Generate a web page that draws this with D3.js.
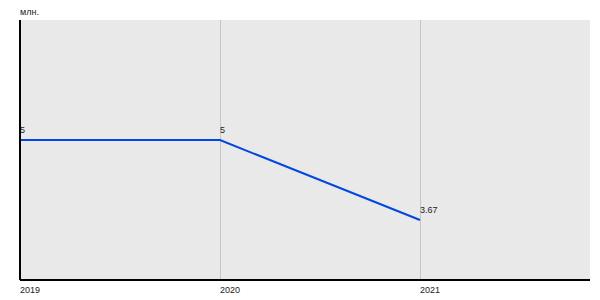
<!DOCTYPE html>
<html>
<head>
<meta charset="utf-8">
<script src="https://cdn.jsdelivr.net/npm/d3@7"></script>
<style>
  body { margin: 0; background: #fff; }
  text { font-family: "Liberation Sans", Arial, sans-serif; font-size: 9px; fill: #222; }
</style>
</head>
<body>
<div id="chart"></div>
<script>
var years = [2019, 2020, 2021];
var values = [5, 5, 3.67];
var valueLabels = ["5", "5", "3.67"];
var unitLabel = "млн.";

var margin = { top: 20, right: 10, bottom: 20, left: 20 },
  width = 600 - margin.left - margin.right,
  height = 300 - margin.top - margin.bottom;

var x = d3.scaleLinear()
  .domain([2019, 2021.85])
  .range([0, width]);
var y = d3.scaleLinear()
  .domain([2.67, 7])
  .range([height, 0]);

var svg = d3.select("#chart").append("svg")
  .attr("width", 600)
  .attr("height", 300);

var g = svg.append("g")
  .attr("transform", "translate(" + margin.left + "," + margin.top + ")");

// plot background
g.append("rect")
  .attr("width", width)
  .attr("height", height)
  .attr("fill", "#e9e9e9");

// vertical grid lines
g.selectAll(".grid")
  .data(years.slice(1))
  .enter().append("line")
  .attr("class", "grid")
  .attr("x1", function(d) { return x(d); })
  .attr("x2", function(d) { return x(d); })
  .attr("y1", 0)
  .attr("y2", height)
  .attr("stroke", "#c6c6c6")
  .attr("stroke-width", 1)
  .attr("shape-rendering", "crispEdges");

// data line
var line = d3.line()
  .x(function(d, i) { return x(years[i]); })
  .y(function(d) { return y(d); });

g.append("path")
  .datum(values)
  .attr("fill", "none")
  .attr("stroke", "#0046e0")
  .attr("stroke-width", 2)
  .attr("d", line);

// value labels
g.selectAll(".val")
  .data(values)
  .enter().append("text")
  .attr("class", "val")
  .attr("x", function(d, i) { return x(years[i]); })
  .attr("y", function(d) { return y(d) - 7; })
  .text(function(d, i) { return valueLabels[i]; });

// axes
g.append("line")
  .attr("x1", 0).attr("x2", 0)
  .attr("y1", 0).attr("y2", height)
  .attr("stroke", "#000")
  .attr("stroke-width", 2);

g.append("line")
  .attr("x1", 0).attr("x2", width)
  .attr("y1", height).attr("y2", height)
  .attr("stroke", "#000")
  .attr("stroke-width", 2);

// x tick labels
g.selectAll(".xtick")
  .data(years)
  .enter().append("text")
  .attr("class", "xtick")
  .attr("x", function(d) { return x(d); })
  .attr("y", height + 13)
  .text(function(d) { return d; });

// unit label
svg.append("text")
  .attr("x", margin.left)
  .attr("y", 15)
  .text(unitLabel);
</script>
</body>
</html>
